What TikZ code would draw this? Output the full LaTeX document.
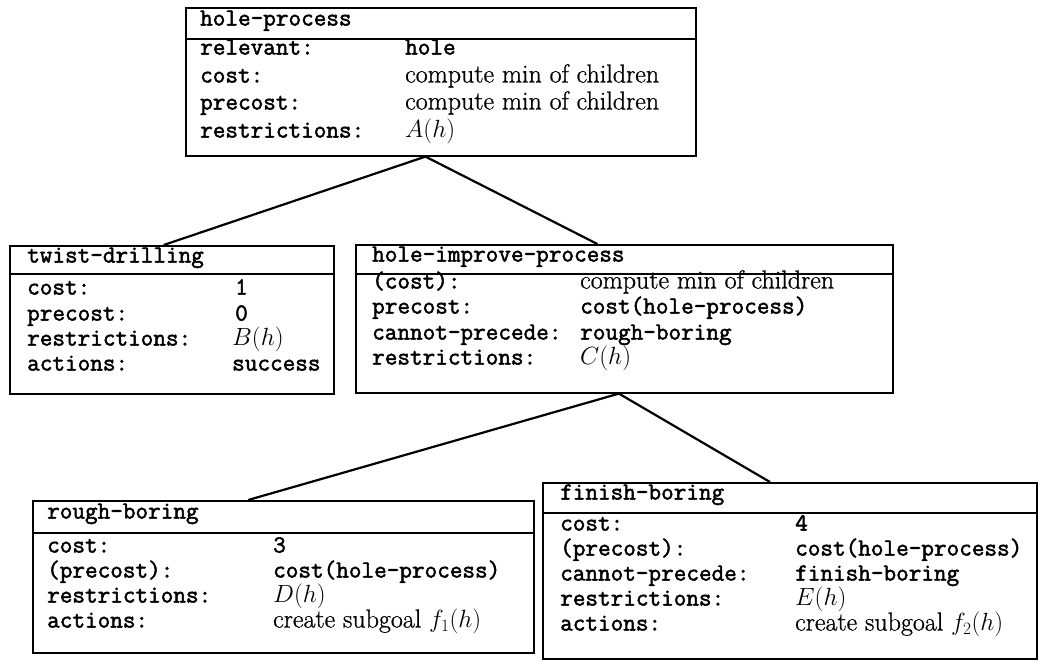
\documentclass[tikz,border=0pt]{standalone}
\usepackage{fontspec}
\setmainfont{Latin Modern Roman}[FakeBold=0.8]
\setmonofont{Latin Modern Mono}[FakeBold=2]
\usetikzlibrary{calc}
\tikzset{
  boxpart/.style={draw, line width=1.6pt, anchor=north west, inner sep=0pt},
  txt/.style={anchor=west, inner sep=0pt, text height=0.7em, text depth=0.2em},
  tl/.style={txt, font=\fontsize{24.5}{26}\selectfont\ttfamily},
  rl/.style={txt, font=\fontsize{26}{28}\selectfont},
  link/.style={line width=2.2pt}
}
\begin{document}
\begin{tikzpicture}[x=1pt,y=-1pt]
\useasboundingbox (0,0) rectangle (1041,665);
% ---------- hole-process
\node[boxpart, minimum width=510pt, minimum height=31pt] (hph) at (185,7) {};
\node[boxpart, minimum width=510pt, minimum height=117pt] (hp) at (185,38) {};
\node[tl] (hp0) at (200,23) {hole-process};
\node[tl] (hp1) at (200,52) {relevant:};     \node[tl] (hp1v) at (405,52) {hole};
\node[tl] (hp2) at (200,80) {cost:};         \node[rl] (hp2v) at (405,80) {compute min of children};
\node[tl] (hp3) at (200,107) {precost:};     \node[rl] (hp3v) at (405,107) {compute min of children};
\node[tl] (hp4) at (200,135) {restrictions:};\node[rl] (hp4v) at (405,135) {$A(h)$};
% ---------- twist-drilling
\node[boxpart, minimum width=324pt, minimum height=28pt] (tdh) at (9,245) {};
\node[boxpart, minimum width=324pt, minimum height=120pt] (td) at (9,273) {};
\node[tl] (td0) at (27,260) {twist-drilling};
\node[tl] (td1) at (27,292) {cost:};          \node[tl] (td1v) at (235,292) {1};
\node[tl] (td2) at (27,318) {precost:};       \node[tl] (td2v) at (235,318) {0};
\node[tl] (td3) at (27,343) {restrictions:};  \node[rl] (td3v) at (232,343) {$B(h)$};
\node[tl] (td4) at (27,368) {actions:};       \node[tl] (td4v) at (232,368) {success};
% ---------- hole-improve-process
\node[boxpart, minimum width=537pt, minimum height=29pt] (hiph) at (355,244) {};
\node[boxpart, minimum width=537pt, minimum height=119pt] (hip) at (355,273) {};
\node[tl] (hip0) at (372,259) {hole-improve-process};
\node[tl] (hip1) at (372,286) {(cost):};          \node[rl] (hip1v) at (580,286) {compute min of children};
\node[tl] (hip2) at (372,311) {precost:};         \node[tl] (hip2v) at (580,311) {cost(hole-process)};
\node[tl] (hip3) at (372,337) {cannot-precede:};  \node[tl] (hip3v) at (580,337) {rough-boring};
\node[tl] (hip4) at (372,362) {restrictions:};    \node[rl] (hip4v) at (580,362) {$C(h)$};
% ---------- rough-boring
\node[boxpart, minimum width=501pt, minimum height=32pt] (rbh) at (32,500) {};
\node[boxpart, minimum width=501pt, minimum height=120pt] (rb) at (32,532) {};
\node[tl] (rb0) at (47,516) {rough-boring};
\node[tl] (rb1) at (47,550) {cost:};          \node[tl] (rb1v) at (273,550) {3};
\node[tl] (rb2) at (47,575) {(precost):};     \node[tl] (rb2v) at (273,575) {cost(hole-process)};
\node[tl] (rb3) at (47,600) {restrictions:};  \node[rl] (rb3v) at (273,600) {$D(h)$};
\node[tl] (rb4) at (47,625) {actions:};       \node[rl] (rb4v) at (273,625) {create subgoal $f_1(h)$};
% ---------- finish-boring
\node[boxpart, minimum width=494pt, minimum height=30pt] (fbh) at (542,482) {};
\node[boxpart, minimum width=494pt, minimum height=146pt] (fb) at (542,512) {};
\node[tl] (fb0) at (560,497) {finish-boring};
\node[tl] (fb1) at (560,528) {cost:};          \node[tl] (fb1v) at (795,528) {4};
\node[tl] (fb2) at (560,553) {(precost):};     \node[tl] (fb2v) at (795,553) {cost(hole-process)};
\node[tl] (fb3) at (560,578) {cannot-precede:};\node[tl] (fb3v) at (795,578) {finish-boring};
\node[tl] (fb4) at (560,603) {restrictions:};  \node[rl] (fb4v) at (795,603) {$E(h)$};
\node[tl] (fb5) at (560,628) {actions:};       \node[rl] (fb5v) at (795,628) {create subgoal $f_2(h)$};
% ---------- connectors
\coordinate (hpA) at ($(hp.south west)!0.47!(hp.south east)$);
\coordinate (tdT) at ($(tdh.north west)!0.475!(tdh.north east)$);
\coordinate (hipT) at ($(hiph.north west)!0.45!(hiph.north east)$);
\coordinate (hipA) at ($(hip.south west)!0.49!(hip.south east)$);
\coordinate (rbT) at ($(rbh.north west)!0.43!(rbh.north east)$);
\coordinate (fbT) at ($(fbh.north west)!0.46!(fbh.north east)$);
\draw[link] (hpA) -- (tdT);
\draw[link] (hpA) -- (hipT);
\draw[link] (hipA) -- (rbT);
\draw[link] (hipA) -- (fbT);
\end{tikzpicture}
\end{document}
